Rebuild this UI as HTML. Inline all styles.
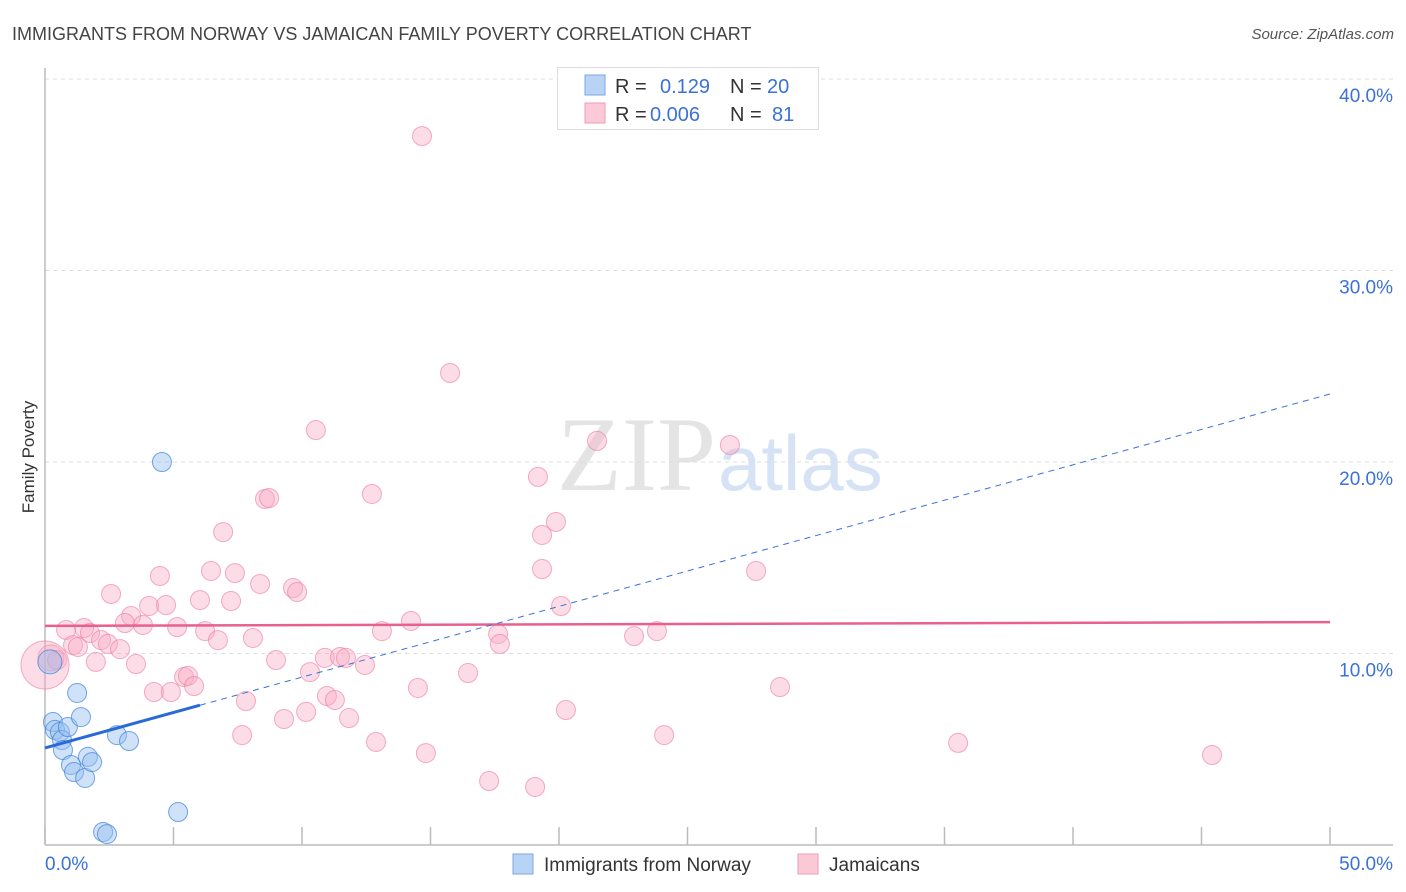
<!DOCTYPE html>
<html><head><meta charset="utf-8"><style>
body{margin:0;background:#fff;font-family:"Liberation Sans",sans-serif;}
svg{display:block}
</style></head><body>
<svg id="chart" width="1406" height="892" xmlns="http://www.w3.org/2000/svg">
<text x="12" y="40" font-size="18" fill="#444">IMMIGRANTS FROM NORWAY VS JAMAICAN FAMILY POVERTY CORRELATION CHART</text>
<text x="1394" y="39" font-size="15" fill="#555" font-style="italic" text-anchor="end">Source: ZipAtlas.com</text>
<text x="716" y="490" font-size="106" fill="#e4e4e4" text-anchor="end" font-family="Liberation Serif,serif">ZIP</text>
<text x="718" y="490" font-size="78" fill="#d6e3f5">atlas</text>
<g id="grid"></g>
<g id="axes"></g>
<g id="marks"></g>
<text x="34" y="457" font-size="17" fill="#333" text-anchor="middle" transform="rotate(-90 34 457)">Family Poverty</text>
<g>
<rect x="557.5" y="67.5" width="261" height="62" fill="#fff" stroke="#ddd"/>
<rect x="585" y="75" width="20" height="20" fill="#b9d3f5" stroke="#7aa6e6"/>
<rect x="585" y="103" width="20" height="20" fill="#fbc9d8" stroke="#f09ab4"/>
<text x="615" y="93" font-size="20" fill="#333">R =</text>
<text x="660" y="93" font-size="20" fill="#3a72d6">0.129</text>
<text x="730" y="93" font-size="20" fill="#333">N =</text>
<text x="767" y="93" font-size="20" fill="#3a72d6">20</text>
<text x="615" y="121" font-size="20" fill="#333">R =</text>
<text x="650" y="121" font-size="20" fill="#3a72d6">0.006</text>
<text x="730" y="121" font-size="20" fill="#333">N =</text>
<text x="772" y="121" font-size="20" fill="#3a72d6">81</text>
</g>
<g>
<rect x="513" y="854" width="20" height="20" fill="#b9d3f5" stroke="#7aa6e6"/>
<text x="544" y="871" font-size="19" fill="#333">Immigrants from Norway</text>
<rect x="798" y="854" width="20" height="20" fill="#fbc9d8" stroke="#f09ab4"/>
<text x="829" y="871" font-size="19" fill="#333">Jamaicans</text>
</g>
</svg>
<script>
const blueX=[0.19,0.31,0.39,0.58,0.66,0.70,0.89,1.01,1.13,1.25,1.40,1.56,1.67,1.83,2.80,3.27,4.55,5.18,2.26,2.41];
const blueY=[9.56,6.42,6.01,5.90,5.48,4.96,6.16,4.18,3.81,7.94,6.68,3.50,4.60,4.33,5.74,5.43,20.0,1.72,0.68,0.57];
const pinkX=[14.67,15.76,10.54,21.48,26.65,19.18,12.72,8.56,8.72,19.88,6.93,19.34,4.47,6.46,7.39,19.34,27.67,8.37,9.65,9.81,2.57,6.03,7.24,4.05,4.71,20.08,3.35,3.11,3.81,5.14,14.24,1.52,0.82,6.23,13.11,17.63,22.92,23.81,1.75,1.09,1.28,2.18,2.45,6.73,8.09,2.92,17.70,0.23,0.47,1.98,3.54,8.99,10.89,11.48,11.71,12.45,10.31,16.46,5.41,5.56,4.24,4.90,5.80,14.51,28.60,7.82,10.97,11.28,10.16,9.30,11.83,20.27,7.67,24.09,12.88,35.53,14.82,45.41,17.28,19.07,0.0];
const pinkY=[37.02,24.65,21.67,21.10,20.89,19.22,18.33,18.07,18.12,16.87,16.34,16.19,14.05,14.31,14.20,14.41,14.31,13.63,13.42,13.21,13.11,12.79,12.74,12.48,12.53,12.48,11.96,11.59,11.49,11.38,11.70,11.33,11.23,11.17,11.17,11.02,10.91,11.17,11.07,10.44,10.34,10.70,10.50,10.70,10.81,10.23,10.50,9.77,9.66,9.56,9.45,9.66,9.77,9.82,9.77,9.40,9.03,8.98,8.77,8.83,7.99,7.99,8.30,8.20,8.25,7.52,7.78,7.57,6.95,6.58,6.63,7.05,5.74,5.74,5.38,5.33,4.80,4.70,3.34,3.03,9.4];
const yTicks=[10,20,30,40];
const yTickLabels=["10.0%","20.0%","30.0%","40.0%"];
const xTicks=[0,5,10,15,20,25,30,35,40,45,50];
const blueTrend=[5.07,23.55];
const blueSolidEnd=6.03;
const pinkTrend=[11.44,11.64];
const X=v=>45+v*25.7, Y=v=>845-v*19.15;
const NS="http://www.w3.org/2000/svg";
function mk(tag,attrs,parent){const e=document.createElementNS(NS,tag);for(const k in attrs)e.setAttribute(k,attrs[k]);parent.appendChild(e);return e;}
const grid=document.getElementById('grid'),axes=document.getElementById('axes'),marks=document.getElementById('marks');
yTicks.forEach((t,i)=>{
 const l=mk('line',{x1:45,x2:1393,y1:Y(t),y2:Y(t),stroke:'#ddd','stroke-dasharray':'4 4'},grid);
 
 
 const tx=mk('text',{x:1393,y:Y(t)+23,'font-size':19,fill:'#3a72d6','text-anchor':'end'},axes);
 tx.textContent=yTickLabels[i];
 
 
});
const ya=mk('line',{x1:45,x2:45,y1:68,y2:845,stroke:'#bbb','stroke-width':1.5},axes);


const xa=mk('line',{x1:45,x2:1393,y1:845,y2:845,stroke:'#bbb','stroke-width':1.5},axes);


xTicks.forEach(t=>{const l=mk('line',{x1:X(t),x2:X(t),y1:827,y2:845,stroke:'#bbb','stroke-width':1.5},axes);
 
 });
const x0=mk('text',{x:45,y:870,'font-size':19,fill:'#3a72d6'},axes);x0.textContent='0.0%';


const x1=mk('text',{x:1393,y:870,'font-size':19,fill:'#3a72d6','text-anchor':'end'},axes);x1.textContent='50.0%';


pinkX.forEach((v,i)=>{const r=(i===pinkX.length-1)?24:(i===47?13:9.5);
 const c=mk('circle',{cx:X(v),cy:Y(pinkY[i]),r:r,fill:'rgba(248,170,195,0.4)',stroke:'rgba(236,120,155,0.6)','stroke-width':1},marks);
 
 });
blueX.forEach((v,i)=>{const r=i===0?12:9.5;
 const c=mk('circle',{cx:X(v),cy:Y(blueY[i]),r:r,fill:'rgba(150,190,240,0.45)',stroke:'rgba(60,130,220,0.7)','stroke-width':1},marks);
 
 });
const bt=v=>blueTrend[0]+(blueTrend[1]-blueTrend[0])*v/50;
const pl=mk('line',{x1:X(0),y1:Y(pinkTrend[0]),x2:X(50),y2:Y(pinkTrend[1]),stroke:'#e8608e','stroke-width':2.5},marks);


const bd=mk('line',{x1:X(blueSolidEnd),y1:Y(bt(blueSolidEnd)),x2:X(50),y2:Y(bt(50)),stroke:'#3a72d6','stroke-width':1,'stroke-dasharray':'6 5'},marks);


const bs=mk('line',{x1:X(0),y1:Y(bt(0)),x2:X(blueSolidEnd),y2:Y(bt(blueSolidEnd)),stroke:'#2a6ad6','stroke-width':3},marks);


</script>
</body></html>
